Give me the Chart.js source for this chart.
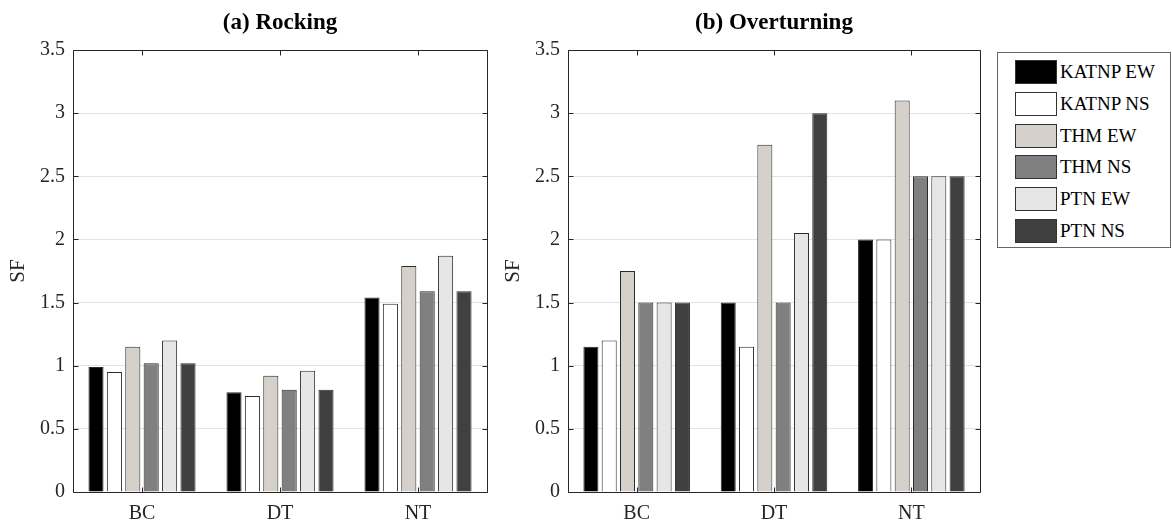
<!DOCTYPE html>
<html>
<head>
<meta charset="utf-8">
<script src="https://cdn.jsdelivr.net/npm/chart.js@4/dist/chart.umd.min.js"></script>
<style>
  html, body { margin: 0; padding: 0; background: #fff; }
  body { width: 1172px; height: 524px; position: relative; overflow: hidden; font-family: "Liberation Serif", "Times New Roman", serif; }
  .panel { position: absolute; top: 0; }
  #legend { position: absolute; left: 997px; top: 52px; width: 174px; height: 196px; border: 1px solid #666; box-sizing: border-box; background: #fff; }
  .item { position: absolute; left: 17px; height: 24px; display: flex; align-items: center; }
  .sw { width: 42px; height: 24px; box-sizing: border-box; border: 1px solid #333; margin-right: 3px; }
  .lbl { font-size: 19px; color: #000; white-space: nowrap; }
</style>
</head>
<body>
<div class="panel" style="left:0px;"><canvas id="c1" width="495" height="524"></canvas></div>
<div class="panel" style="left:495px;"><canvas id="c2" width="490" height="524"></canvas></div>
<div id="legend"></div>
<script>
// ---- Data ----
const categories = ['BC', 'DT', 'NT'];
const seriesNames = ['KATNP EW', 'KATNP NS', 'THM EW', 'THM NS', 'PTN EW', 'PTN NS'];
const seriesColors = ['#000000', '#ffffff', '#d5d1ca', '#808080', '#e6e6e6', '#404040'];
const yTickValues = [0, 0.5, 1, 1.5, 2, 2.5, 3, 3.5];

// (a) Rocking
const rockKatnpEW = [0.99, 0.79, 1.54];
const rockKatnpNS = [0.95, 0.76, 1.49];
const rockThmEW   = [1.15, 0.92, 1.79];
const rockThmNS   = [1.02, 0.81, 1.59];
const rockPtnEW   = [1.20, 0.96, 1.87];
const rockPtnNS   = [1.02, 0.81, 1.59];

// (b) Overturning
const overKatnpEW = [1.15, 1.50, 2.00];
const overKatnpNS = [1.20, 1.15, 2.00];
const overThmEW   = [1.75, 2.75, 3.10];
const overThmNS   = [1.50, 1.50, 2.50];
const overPtnEW   = [1.50, 2.05, 2.50];
const overPtnNS   = [1.50, 3.00, 2.50];

const rockSeries = [rockKatnpEW, rockKatnpNS, rockThmEW, rockThmNS, rockPtnEW, rockPtnNS];
const overSeries = [overKatnpEW, overKatnpNS, overThmEW, overThmNS, overPtnEW, overPtnNS];

const FONT = '"Liberation Serif", "Times New Roman", serif';

// Inward ticks + box, MATLAB style
const boxTicks = {
  id: 'boxTicks',
  afterDraw(chart) {
    const ctx = chart.ctx, a = chart.chartArea;
    const xs = chart.scales.x, ys = chart.scales.y;
    ctx.save();
    ctx.strokeStyle = '#262626';
    ctx.lineWidth = 1;
    ctx.beginPath();
    const L = Math.round(a.left) + 0.5, R = Math.round(a.right) + 0.5;
    const T = Math.round(a.top) + 0.5, B = Math.round(a.bottom) + 0.5;
    ctx.rect(L, T, R - L, B - T);
    ys.ticks.forEach(t => {
      const y = Math.round(ys.getPixelForValue(t.value)) + 0.5;
      ctx.moveTo(L, y); ctx.lineTo(L + 5, y);
      ctx.moveTo(R, y); ctx.lineTo(R - 5, y);
    });
    categories.forEach((c, i) => {
      const x = Math.round(xs.getPixelForValue(i)) + 0.5;
      ctx.moveTo(x, B); ctx.lineTo(x, B - 5);
      ctx.moveTo(x, T); ctx.lineTo(x, T + 5);
    });
    ctx.stroke();
    ctx.restore();
  }
};

function makeChart(id, title, series, padRight) {
  return new Chart(document.getElementById(id), {
    type: 'bar',
    data: {
      labels: categories,
      datasets: seriesNames.map((n, i) => ({
        label: n,
        data: series[i],
        backgroundColor: seriesColors[i],
        borderColor: '#2a2a2a',
        borderWidth: 1,
        borderSkipped: 'bottom',
        categoryPercentage: 0.8,
        barPercentage: 0.82
      }))
    },
    options: {
      responsive: false,
      animation: false,
      layout: { padding: { left: 0, right: padRight, top: 0, bottom: 0 } },
      plugins: {
        legend: { display: false },
        tooltip: { enabled: false },
        title: {
          display: true, text: title, fullSize: false,
          color: '#000',
          font: { family: FONT, size: 23, weight: 'bold' },
          padding: { top: 9, bottom: 13.4 }
        }
      },
      scales: {
        x: {
          grid: { display: false, drawTicks: false },
          border: { display: false },
          ticks: { color: '#262626', font: { family: FONT, size: 20 }, padding: 10 },
          afterFit(s) { s.height = 32; }
        },
        y: {
          min: 0, max: 3.5,
          afterBuildTicks(s) { s.ticks = yTickValues.map(v => ({ value: v })); },
          grid: { color: '#e3e3e3', drawTicks: false, lineWidth: 1 },
          border: { display: false },
          ticks: { color: '#262626', font: { family: FONT, size: 20 }, padding: 8, callback: v => String(v) },
          title: { display: true, text: 'SF', color: '#262626', font: { family: FONT, size: 21 }, padding: { top: 6, bottom: 0 } },
          afterFit(s) { s.width = 73; }
        }
      }
    },
    plugins: [boxTicks]
  });
}

makeChart('c1', '(a) Rocking', rockSeries, 8);
makeChart('c2', '(b) Overturning', overSeries, 5);

// HTML legend from series arrays
const lg = document.getElementById('legend');
seriesNames.forEach((n, i) => {
  const d = document.createElement('div');
  d.className = 'item';
  d.style.top = (7 + i * 31.8) + 'px';
  d.innerHTML = '<div class="sw" style="background:' + seriesColors[i] + '"></div><span class="lbl">' + n + '</span>';
  lg.appendChild(d);
});
</script>
</body>
</html>
